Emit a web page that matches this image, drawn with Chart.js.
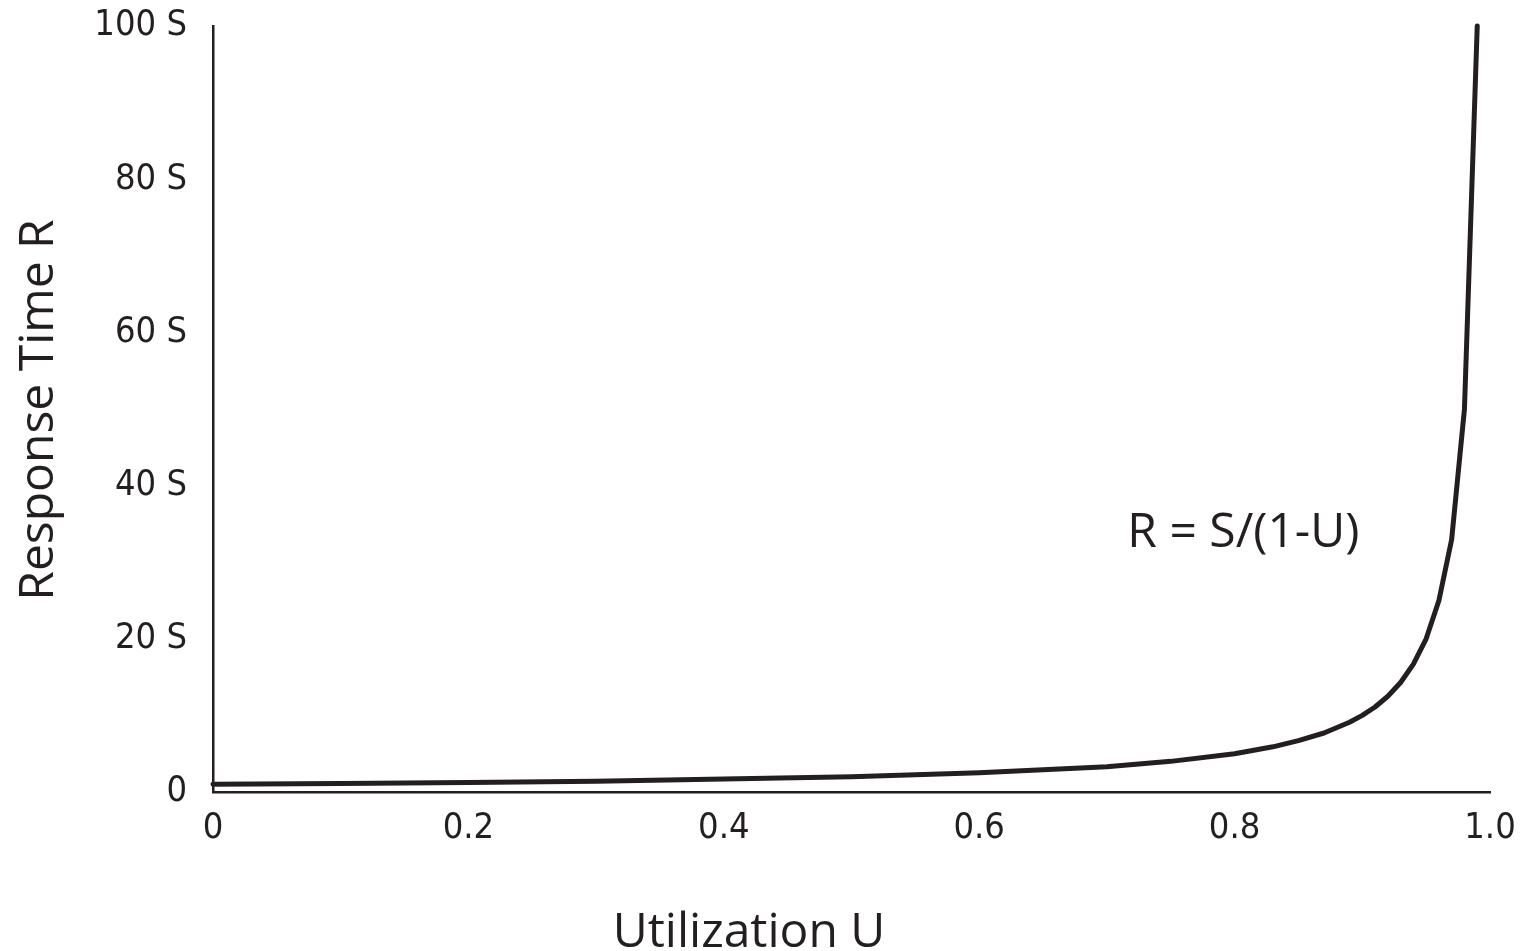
<!DOCTYPE html>
<html>
<head>
<meta charset="utf-8">
<script src="https://cdn.jsdelivr.net/npm/chart.js@4.4.1/dist/chart.umd.min.js"></script>
<style>
  html, body { margin: 0; padding: 0; background: #fff; }
  .chart-container { width: 1536px; height: 951px; }
</style>
</head>
<body>
<div class="chart-container">
  <canvas id="myChart"></canvas>
</div>
<script>
// utilization U and response time R (in units of S)
const utilization = [0, 0.1, 0.2, 0.3, 0.4, 0.5, 0.6, 0.65, 0.7, 0.75, 0.8, 0.83, 0.85, 0.87, 0.89,
                     0.9, 0.91, 0.92, 0.93, 0.94, 0.95, 0.96, 0.97, 0.98, 0.99];
const responseTime = [1, 1.1, 1.25, 1.4, 1.7, 2, 2.5, 2.9, 3.3, 4, 5, 5.9, 6.7, 7.7, 9.1,
                      10, 11.1, 12.5, 14.3, 16.7, 20, 25, 33, 50, 100];

const xTicks = [0, 0.2, 0.4, 0.6, 0.8, 1.0];
const xTickLabels = ['0', '0.2', '0.4', '0.6', '0.8', '1.0'];
const yTicks = [0, 20, 40, 60, 80, 100];
const yTickLabels = ['0', '20 S', '40 S', '60 S', '80 S', '100 S'];

const xTitle = 'Utilization U';
const yTitle = 'Response Time R';
const formula = 'R = S/(1-U)';
const formulaAt = { x: 0.716, y: 32 };

const ink = '#231f20';
const tickFont = "'Liberation Sans Narrow', 'DejaVu Sans Condensed', sans-serif";
const titleFont = "'Open Sans', sans-serif";

const points = utilization.map((u, i) => ({ x: u, y: responseTime[i] }));

const labelsPlugin = {
    id: 'labels',
    afterDraw(chart) {
        const ctx = chart.ctx;
        const { x, y } = chart.scales;
        ctx.save();
        ctx.fillStyle = ink;
        ctx.font = '48px ' + titleFont;

        // formula next to the curve
        ctx.textAlign = 'left';
        ctx.textBaseline = 'alphabetic';
        ctx.fillText(formula, x.getPixelForValue(formulaAt.x), y.getPixelForValue(formulaAt.y));

        // x axis title
        ctx.textAlign = 'center';
        ctx.fillText(xTitle, 749, 947);

        // y axis title
        ctx.translate(53, 410);
        ctx.rotate(-Math.PI / 2);
        ctx.fillText(yTitle, 0, 0);
        ctx.restore();
    }
};

new Chart(document.getElementById('myChart'), {
    type: 'scatter',
    data: {
        datasets: [{
            data: points,
            showLine: true,
            borderColor: ink,
            borderWidth: 5,
            borderCapStyle: 'round',
            borderJoinStyle: 'round',
            tension: 0,
            pointRadius: 0,
            pointHoverRadius: 0,
            clip: false,
        }]
    },
    options: {
        responsive: true,
        maintainAspectRatio: false,
        animation: false,
        events: [],
        layout: { padding: { top: 26, right: 46, left: 0, bottom: 0 } },
        plugins: {
            legend: { display: false },
            tooltip: { enabled: false },
        },
        scales: {
            x: {
                type: 'linear',
                min: 0,
                max: 1,
                afterFit: (scale) => {
                    scale.height = 159;
                    scale.paddingLeft = 0;
                    scale.paddingRight = 0;
                },
                afterBuildTicks: (scale) => { scale.ticks = xTicks.map(v => ({ value: v })); },
                grid: { display: false, drawTicks: false },
                border: { display: true, color: ink, width: 2.5 },
                ticks: {
                    padding: 15,
                    color: ink,
                    font: { family: tickFont, size: 36 },
                    callback: (value) => xTickLabels[xTicks.indexOf(value)],
                },
            },
            y: {
                type: 'linear',
                min: 0,
                max: 100,
                afterFit: (scale) => {
                    scale.width = 213;
                    scale.paddingTop = 0;
                    scale.paddingBottom = 0;
                },
                afterBuildTicks: (scale) => { scale.ticks = yTicks.map(v => ({ value: v })); },
                grid: { display: false, drawTicks: false },
                border: { display: true, color: ink, width: 2.5 },
                ticks: {
                    padding: 26,
                    color: ink,
                    font: { family: tickFont, size: 36 },
                    callback: (value) => yTickLabels[yTicks.indexOf(value)],
                },
            },
        },
    },
    plugins: [labelsPlugin],
});
</script>
</body>
</html>
